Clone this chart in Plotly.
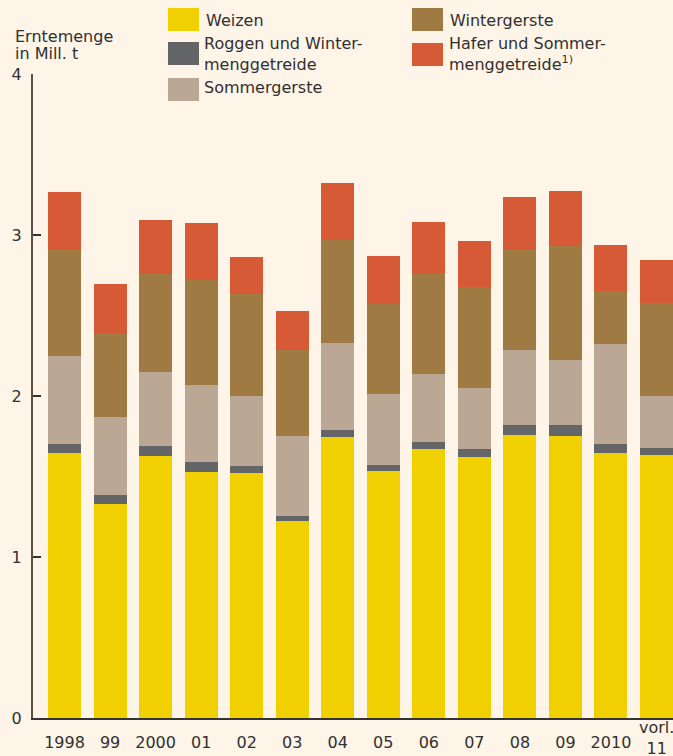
import plotly.graph_objects as go

# ---- data (Mill. t) ----
years = ["1998", "99", "2000", "01", "02", "03", "04", "05", "06", "07", "08", "09", "2010", "11"]
weizen = [1.643, 1.327, 1.625, 1.531, 1.522, 1.224, 1.745, 1.534, 1.671, 1.621, 1.758, 1.752, 1.646, 1.634]
roggen = [0.062, 0.056, 0.062, 0.056, 0.043, 0.031, 0.044, 0.037, 0.043, 0.050, 0.062, 0.068, 0.056, 0.043]
sommergerste = [0.546, 0.484, 0.459, 0.484, 0.435, 0.497, 0.540, 0.441, 0.423, 0.379, 0.466, 0.404, 0.621, 0.323]
wintergerste = [0.658, 0.527, 0.609, 0.647, 0.635, 0.535, 0.642, 0.561, 0.627, 0.627, 0.623, 0.709, 0.329, 0.578]
hafer = [0.359, 0.304, 0.340, 0.358, 0.228, 0.241, 0.352, 0.297, 0.317, 0.286, 0.327, 0.340, 0.286, 0.267]

y_ticks = [0, 1, 2, 3, 4]
y_title_lines = ["Erntemenge", "in Mill. t"]
prelim_note = "vorl."

series = [
    ("Weizen", weizen, "#f0d000"),
    ("Roggen und Winter-<br>menggetreide", roggen, "#646567"),
    ("Sommergerste", sommergerste, "#baa895"),
    ("Wintergerste", wintergerste, "#a07a43"),
    ("Hafer und Sommer-<br>menggetreide<sup>1)</sup>", hafer, "#d55a35"),
]

FONT = "DejaVu Sans"
TXT = "#303030"
BG = "#fef4e8"
FW = 400

pos = list(range(len(years)))  # slot index of each year on the x axis

fig = go.Figure()
for name, vals, col in series:
    fig.add_trace(go.Bar(x=pos, y=vals, name=name, marker=dict(color=col, line=dict(width=0)),
                         width=0.725, showlegend=False, hovertext=years))

# last tick label is drawn two-line ("vorl." over "11") as an annotation
tick_text = years[:-1] + [""]

fig.update_layout(
    barmode="stack",
    width=673, height=756,
    margin=dict(l=33, r=0, t=74, b=38, autoexpand=False),
    paper_bgcolor=BG, plot_bgcolor=BG,
    font=dict(family=FONT, size=16, color=TXT, weight=FW),
)
fig.update_xaxes(
    type="linear", range=[-0.692, 13.362],
    tickmode="array", tickvals=pos, ticktext=tick_text,
    showline=True, linecolor="#333333", linewidth=1.5,
    ticks="", showgrid=False, zeroline=False,
    tickfont=dict(family=FONT, size=16, color=TXT, weight=FW),
    ticklabelstandoff=9,
)
fig.update_yaxes(
    range=[0, 4], tickvals=y_ticks, ticktext=[str(v) for v in y_ticks],
    showline=True, linecolor="#5a5048", linewidth=2,
    ticks="inside", ticklen=8, tickwidth=2, tickcolor="#333333",
    showgrid=False, zeroline=False,
    tickfont=dict(family=FONT, size=16, color=TXT, weight=FW),
    ticklabelstandoff=6,
)

def px_x(x):
    return (x - 33) / 640

def px_y(y):
    return (718 - y) / 644

fig.add_annotation(x=pos[-1], xref="x", y=px_y(738), yref="paper", yanchor="middle", xanchor="center",
                   text=prelim_note + "<br>" + years[-1], showarrow=False,
                   font=dict(family=FONT, size=16, color=TXT, weight=FW))

# y title
for line, cy in zip(y_title_lines, [36, 53]):
    fig.add_annotation(x=px_x(13), xref="paper", xanchor="left", y=px_y(cy), yref="paper",
                       yanchor="middle", text=line, showarrow=False,
                       font=dict(family=FONT, size=16, color=TXT, weight=FW))

# manual legend (pixel positions -> paper coords)
legend_pos = [
    (168, 8, 31, 204, 20),
    (168, 42, 65, 202, 54),
    (168, 78, 101, 202, 88),
    (412, 8, 31, 448, 20),
    (412, 43, 66, 447, 54),
]
for (name, vals, col), (sx, sy0, sy1, tx, ty) in zip(series, legend_pos):
    fig.add_shape(type="rect", xref="paper", yref="paper",
                  x0=px_x(sx), x1=px_x(sx + 31), y0=px_y(sy1), y1=px_y(sy0),
                  fillcolor=col, line=dict(width=0))
    fig.add_annotation(x=px_x(tx), xref="paper", xanchor="left", y=px_y(ty), yref="paper",
                       yanchor="middle", text=name, showarrow=False, align="left",
                       font=dict(family=FONT, size=16, color=TXT, weight=FW))

fig.write_html("out.html", config={"displayModeBar": False},
               post_script="document.body.style.margin='0';document.body.style.padding='0';"
               "document.body.style.overflow='hidden';document.body.style.background='" + BG + "';")
